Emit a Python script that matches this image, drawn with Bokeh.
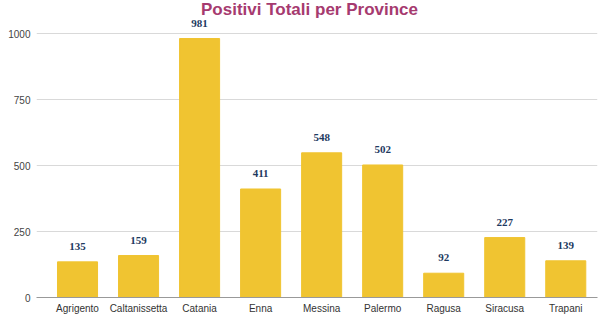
from bokeh.plotting import figure
from bokeh.models import Range1d, FixedTicker, ColumnDataSource, LabelSet, Label
from bokeh.embed import file_html
from bokeh.resources import INLINE

provinces = ["Agrigento", "Caltanissetta", "Catania", "Enna", "Messina",
             "Palermo", "Ragusa", "Siracusa", "Trapani"]
positivi = [135, 159, 981, 411, 548, 502, 92, 227, 139]
y_ticks = [0, 250, 500, 750, 1000]
title_text = "Positivi Totali per Province"

idx = list(range(len(provinces)))
src = ColumnDataSource(dict(x=idx, top=positivi, lab=[str(v) for v in positivi]))

p = figure(width=600, height=326, output_backend="svg", toolbar_location=None,
           x_range=Range1d(-0.672, 8.52), y_range=Range1d(0, 1125),
           min_border_left=36, min_border_right=3, min_border_top=0,
           min_border_bottom=29)
p.outline_line_color = None
p.background_fill_color = "white"
p.border_fill_color = "white"

p.vbar(x="x", top="top", width=0.656, source=src, color="#f0c431")
labels = LabelSet(x="x", y="top", text="lab", source=src, text_align="center",
                  text_baseline="bottom", y_offset=12,
                  text_font="Liberation Serif", text_font_size="11px",
                  text_font_style="bold", text_color="#1e3a5f")
p.add_layout(labels)

title = Label(x=273, y=288, x_units="screen", y_units="screen", text=title_text,
              text_align="center", text_baseline="alphabetic",
              text_font="Liberation Sans", text_font_size="17px",
              text_font_style="bold", text_color="#a63a6f")
p.add_layout(title)

p.xgrid.grid_line_color = None
p.ygrid.grid_line_color = "#d9d9d9"
p.ygrid.ticker = FixedTicker(ticks=y_ticks)

p.yaxis.ticker = FixedTicker(ticks=y_ticks)
p.yaxis.axis_line_color = None
p.yaxis.major_tick_line_color = None
p.yaxis.minor_tick_line_color = None
p.yaxis.major_tick_out = 0
p.yaxis.major_label_standoff = 6
p.yaxis.major_label_text_font = "Liberation Sans"
p.yaxis.major_label_text_font_size = "10px"
p.yaxis.major_label_text_color = "#444444"

p.xaxis.ticker = FixedTicker(ticks=idx)
p.xaxis.major_label_overrides = {i: n for i, n in enumerate(provinces)}
p.xaxis.axis_line_color = "#999999"
p.xaxis.major_tick_line_color = None
p.xaxis.minor_tick_line_color = None
p.xaxis.major_tick_out = 0
p.xaxis.major_label_standoff = 5
p.xaxis.major_label_text_font = "Liberation Sans"
p.xaxis.major_label_text_font_size = "10px"
p.xaxis.major_label_text_color = "#333333"

open("out.html", "w").write(file_html(p, INLINE))
